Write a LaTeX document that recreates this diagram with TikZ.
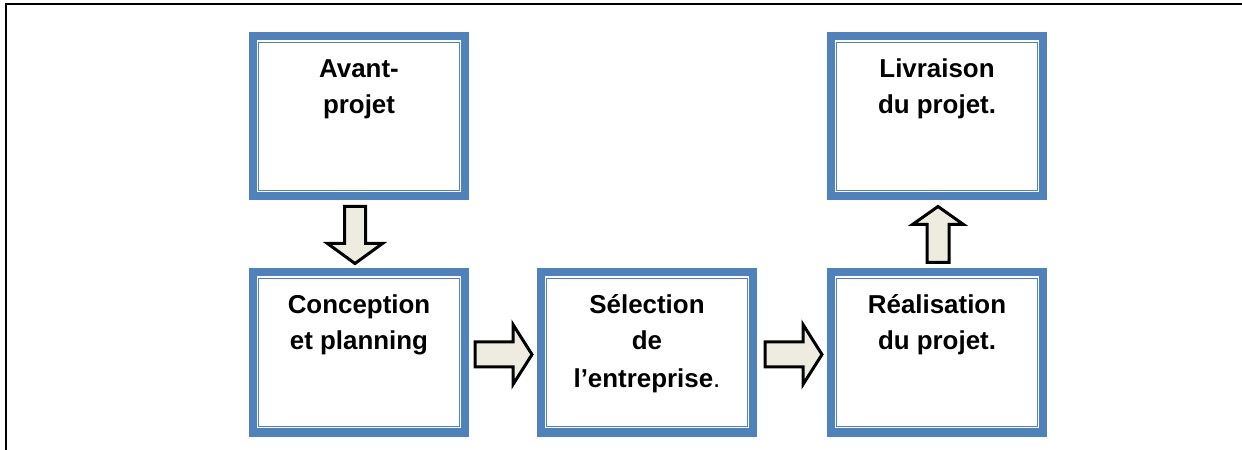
\documentclass[tikz,border=0pt]{standalone}
\usepackage{fontspec}
\setmainfont{Liberation Sans}
\usetikzlibrary{calc}
\definecolor{boxblue}{HTML}{4F81BD}
\definecolor{arrowfill}{HTML}{EEECE1}
\tikzset{
  stagebox/.style={rectangle, draw=boxblue, line width=8bp, minimum width=212bp, minimum height=160bp, inner sep=0pt, fill=white},
  innerline/.style={draw=boxblue, line width=1.6bp},
  innerline2/.style={draw=boxblue, line width=1.1bp},
  stagetext/.style={anchor=north, inner sep=0pt, align=center, font=\fontsize{26}{35.5}\selectfont\bfseries},
  blockarr/.style={draw=black, line width=3bp, fill=arrowfill, line join=miter},
  frameline/.style={draw=black, line width=2bp}
}
\newcommand{\firstln}{\rule{0pt}{22bp}}
\begin{document}
\begin{tikzpicture}[x=1bp,y=-1bp]
\useasboundingbox (0,0) rectangle (1242,450);
\draw[frameline] (6,451) -- (6,4.5) -- (1243,4.5);

\node[stagebox] (a) at (359,116.5) {};
\node[stagebox] (b) at (359,352.5) {};
\node[stagebox] (c) at (647,352.5) {};
\node[stagebox] (d) at (937,352.5) {};
\node[stagebox] (e) at (937,116.5) {};

\foreach \n in {a,b,c,d,e}{
  \draw[innerline] ($(\n.north west)+(7,7)$) rectangle ($(\n.south east)+(-7,-7)$);
  \draw[innerline2] ($(\n.north west)+(9.6,9.6)$) rectangle ($(\n.south east)+(-9.6,-9.6)$);
}

\node[stagetext] (ta) at ($(a.north)+(0,23)$) {\firstln Avant-\\projet};
\node[stagetext] (tb) at ($(b.north)+(0,23)$) {\firstln Conception\\et planning};
\node[stagetext] (tc) at ($(c.north)+(0,23)$) {\firstln Sélection\\de\\[3bp]l’entreprise{\mdseries .}};
\node[stagetext] (td) at ($(d.north)+(0,23)$) {\firstln Réalisation\\du projet.};
\node[stagetext] (te) at ($(e.north)+(0,23)$) {\firstln Livraison\\du projet.};

% down arrow a -> b
\coordinate (ab1) at ($(a.south)+(-4,6)$);
\coordinate (ab2) at ($(b.north)+(-4,-5)$);
\draw[blockarr] ($(ab1)+(-10.5,0)$) -- ($(ab1)+(10.5,0)$) -- ($(ab2)+(10.5,-20)$) -- ($(ab2)+(27.5,-20)$) -- (ab2) -- ($(ab2)+(-27.5,-20)$) -- ($(ab2)+(-10.5,-20)$) -- cycle;

% right arrow b -> c
\coordinate (bc1) at ($(b.east)+(6,2)$);
\coordinate (bc2) at ($(c.west)+(-5,2)$);
\draw[blockarr] ($(bc1)+(0,-12.5)$) -- ($(bc2)+(-19,-12.5)$) -- ($(bc2)+(-19,-30)$) -- (bc2) -- ($(bc2)+(-19,30)$) -- ($(bc2)+(-19,12.5)$) -- ($(bc1)+(0,12.5)$) -- cycle;

% right arrow c -> d
\coordinate (cd1) at ($(c.east)+(8,2)$);
\coordinate (cd2) at ($(d.west)+(-5,2)$);
\draw[blockarr] ($(cd1)+(0,-12.5)$) -- ($(cd2)+(-19,-12.5)$) -- ($(cd2)+(-19,-30)$) -- (cd2) -- ($(cd2)+(-19,30)$) -- ($(cd2)+(-19,12.5)$) -- ($(cd1)+(0,12.5)$) -- cycle;

% up arrow d -> e
\coordinate (de1) at ($(d.north)+(1,-6)$);
\coordinate (de2) at ($(e.south)+(1,6)$);
\draw[blockarr] ($(de1)+(-11,0)$) -- ($(de1)+(11,0)$) -- ($(de2)+(11,18)$) -- ($(de2)+(25.5,18)$) -- (de2) -- ($(de2)+(-25.5,18)$) -- ($(de2)+(-11,18)$) -- cycle;
\end{tikzpicture}
\end{document}
